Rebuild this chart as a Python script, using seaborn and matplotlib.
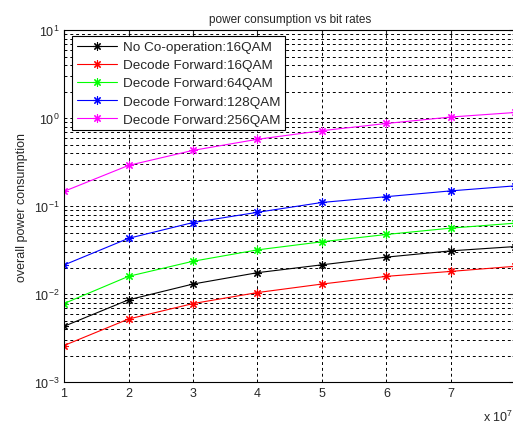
import numpy as np
import pandas as pd
import seaborn as sns
import matplotlib.pyplot as plt
from matplotlib.ticker import LogLocator, NullFormatter

sns.set_style("white")
plt.rcParams["font.family"] = ["Liberation Sans", "DejaVu Sans"]
plt.rcParams["mathtext.fontset"] = "custom"
plt.rcParams["mathtext.rm"] = "Liberation Sans"

# bit rate in units of 1e7
bit_rate = [1, 2, 3, 4, 5, 6, 7, 8]

no_coop_16 = [0.0043, 0.0086, 0.013, 0.0175, 0.0215, 0.0263, 0.031, 0.0347]
df_16 = [0.0026, 0.0052, 0.0078, 0.0104, 0.013, 0.0159, 0.0181, 0.0207]
df_64 = [0.0078, 0.0159, 0.0236, 0.0318, 0.0393, 0.0476, 0.0562, 0.064]
df_128 = [0.0214, 0.043, 0.065, 0.085, 0.110, 0.128, 0.149, 0.170]
df_256 = [0.147, 0.29, 0.43, 0.575, 0.72, 0.87, 1.03, 1.16]

labels = [
    "No Co-operation:16QAM",
    "Decode Forward:16QAM",
    "Decode Forward:64QAM",
    "Decode Forward:128QAM",
    "Decode Forward:256QAM",
]
series = [no_coop_16, df_16, df_64, df_128, df_256]
colors = ["#000000", "#ff0000", "#00ff00", "#0000ff", "#ff00ff"]

fig = plt.figure(figsize=(5.13, 4.27), dpi=100)
ax = fig.add_axes([0.1248, 0.103, 0.88, 0.824])

for vals, lab, col in zip(series, labels, colors):
    d = pd.DataFrame({"rate": bit_rate, "power": vals})
    sns.lineplot(
        data=d, x="rate", y="power", label=lab, color=col,
        marker=(8, 2, 0), markersize=6, markeredgewidth=0.8,
        markeredgecolor=col, linewidth=0.8, ax=ax,
    )

ax.set_yscale("log")
ax.set_ylim(1e-3, 1e1)
ax.set_xlim(1, 8)
ax.set_xticks(bit_rate)
ax.yaxis.set_major_locator(LogLocator(base=10, numticks=10))
ax.yaxis.set_minor_locator(LogLocator(base=10, subs=np.arange(2, 10), numticks=20))
ax.yaxis.set_minor_formatter(NullFormatter())

grid_kw = dict(color="black", linestyle=(0, (3, 3)), linewidth=0.7)
ax.grid(True, which="major", axis="both", **grid_kw)
ax.grid(True, which="minor", axis="y", **grid_kw)

ax.tick_params(which="both", direction="in", top=True, right=True, labelsize=9)
ax.tick_params(which="major", length=4)
ax.tick_params(which="minor", length=2)
for s in ax.spines.values():
    s.set_color("black")
    s.set_linewidth(0.8)

ax.set_title("power consumption vs bit rates", fontsize=8.5, pad=6)
ax.set_xlabel("")
ax.set_ylabel("overall power consumption", fontsize=9, labelpad=4)
fig.text(0.942, 0.022, r"x 10$^7$", fontsize=9, ha="left", va="center")

leg = ax.legend(
    loc="upper left", bbox_to_anchor=(0.018, 0.983), fontsize=9.7,
    frameon=True, fancybox=False, framealpha=1, edgecolor="black",
    handlelength=3.0, handletextpad=0.4, borderpad=0.35,
    labelspacing=0.42, borderaxespad=0,
)
leg.get_frame().set_linewidth(0.8)

fig.savefig("out.png", dpi=100)
